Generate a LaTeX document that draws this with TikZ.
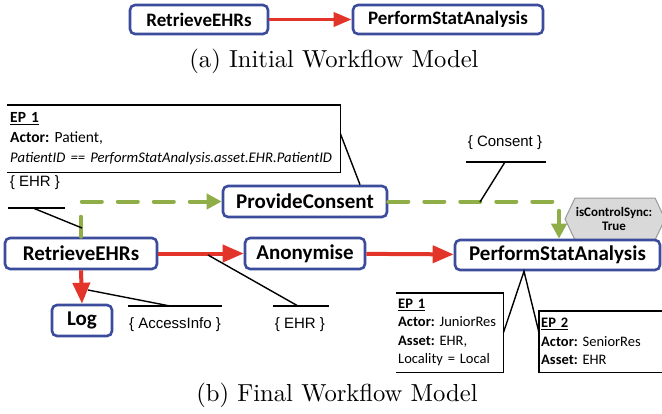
\documentclass[tikz,border=0pt]{standalone}
\usepackage{fontspec}
\newfontfamily\boxfont{Carlito}
\newfontfamily\lblfont{Liberation Sans}
\newfontfamily\capfont{lmroman10-regular}[Extension=.otf]
\frenchspacing
\usetikzlibrary{arrows.meta,backgrounds}
\definecolor{taskblue}{HTML}{3C4C9C}
\definecolor{flowred}{HTML}{E3342A}
\definecolor{syncgreen}{HTML}{8FAE48}
\definecolor{hexgray}{HTML}{D9D9D9}
\definecolor{hexline}{HTML}{9A9A9A}
\tikzset{
  task/.style={draw=taskblue, line width=2.6pt, rounded corners=5pt, fill=white,
    font=\boxfont\bfseries\fontsize{21}{24}\selectfont, inner sep=0pt},
  tasksmall/.style={task, font=\boxfont\bfseries\fontsize{19}{22}\selectfont},
  flow/.style={draw=flowred, line width=4pt, -{Triangle[length=21pt,width=17pt]}},
  flowsmall/.style={draw=flowred, line width=3.5pt, -{Triangle[length=18pt,width=14pt]}},
  sync/.style={draw=syncgreen, line width=4pt, line cap=round, dash pattern=on 20pt off 16pt,
    -{Triangle[length=15pt,width=15pt]}},
  assoc/.style={draw=black, line width=1.4pt},
  lbl/.style={font=\lblfont\fontsize{15}{18}\selectfont, inner sep=0pt},
  note/.style={font=\boxfont\fontsize{15.5}{20}\selectfont, align=left, inner sep=3pt, anchor=north west},
  notesmall/.style={font=\boxfont\fontsize{14.5}{18.5}\selectfont, align=left, inner sep=2pt, anchor=north west},
  caption/.style={font=\capfont\fontsize{24.6}{28}\selectfont, inner sep=0pt}
}
\begin{document}
\begin{tikzpicture}[x=1pt,y=-1pt]
\useasboundingbox (0,0) rectangle (662,413);
\clip (0,0) rectangle (662,413);

% (a) initial workflow
\node[tasksmall, minimum width=138pt, minimum height=29pt] (ra) at (199,19.5) {RetrieveEHRs};
\node[tasksmall, minimum width=190pt, minimum height=29pt] (pa) at (448,19.5) {PerformStatAnalysis};
\draw[flowsmall] (ra) -- (pa);
\node[caption] (capa) at (334,61) {(a) Initial Workflow Model};

% (b) final workflow: tasks
\node[task, minimum width=152pt, minimum height=31pt] (rb) at (81,253.5) {RetrieveEHRs};
\node[task, minimum width=120pt, minimum height=31pt] (an) at (305,253.5) {Anonymise};
\node[task, minimum width=205pt, minimum height=30pt] (pb) at (557.5,255) {PerformStatAnalysis};
\node[task, minimum width=164pt, minimum height=31pt] (pc) at (305,201.5) {ProvideConsent};
\node[task, minimum width=60pt, minimum height=31pt] (lg) at (82,320.5) {Log};

% control flow
\draw[flow] (rb) -- (an);
\draw[flow] (an) -- (pb);
\draw[flow] (rb.south) -- (lg.north);

% consent synchronisation
\draw[sync] (rb.north) |- (pc.west);
\draw[sync] (pc.east) -| ([xshift=1.5pt]pb.north);

% control sync marker
\coordinate (hexc) at (614,219);
\node[font=\boxfont\bfseries\fontsize{13}{14.5}\selectfont, align=center, inner sep=0pt] (hex) at (hexc) {isControlSync:\\True};
\begin{scope}[on background layer]
\filldraw[fill=hexgray, draw=hexline, line width=1pt]
  ([xshift=-49pt]hexc) -- ([xshift=-39pt,yshift=21pt]hexc) -- ([xshift=41pt,yshift=21pt]hexc)
  -- ([xshift=51pt]hexc) -- ([xshift=41pt,yshift=-21pt]hexc) -- ([xshift=-39pt,yshift=-21pt]hexc) -- cycle;
\end{scope}

% data labels
\node[lbl] (dConsent) at (505,143) {\{ Consent \}};
\coordinate (cL) at (466,162); \coordinate (cR) at (546,162); \coordinate (cM) at (505,162);
\coordinate (cT) at (480,202);
\draw[assoc] (cL) -- (cR);
\draw[assoc] (cM) -- (cT);

\node[lbl] (dEhrTop) at (35,183) {\{ EHR \}};
\coordinate (eL) at (8,208); \coordinate (eR) at (65,208); \coordinate (eM) at (33,208);
\coordinate (eT) at (82,228);
\draw[assoc] (eL) -- (eR);
\draw[assoc] (eM) -- (eT);

\node[lbl] (dAccess) at (175,325) {\{ AccessInfo \}};
\coordinate (aL) at (128,306); \coordinate (aR) at (222,306); \coordinate (aM) at (170,306);
\coordinate (aT) at (88,290);
\draw[assoc] (aL) -- (aR);
\draw[assoc] (aM) -- (aT);

\node[lbl] (dEhrBot) at (300,325) {\{ EHR \}};
\coordinate (bL) at (273,306); \coordinate (bR) at (329,306); \coordinate (bM) at (298,306);
\coordinate (bT) at (208,255);
\draw[assoc] (bL) -- (bR);
\draw[assoc] (bM) -- (bT);

% execution policies
\node[note, text width=327pt, minimum height=67pt] (ep0) at (7,105)
  {\textbf{\underline{EP 1}}\\\textbf{Actor:} Patient,\\\mbox{\fontsize{14.7}{20}\selectfont\itshape PatientID == PerformStatAnalysis.asset.EHR.PatientID}};
\draw[assoc] (ep0.north west) -- (ep0.north east) -- (ep0.south east) -- (ep0.south west);
\draw[assoc] ([yshift=5pt]ep0.east) -- ([xshift=55pt]pc.north);

\node[notesmall, text width=103pt, minimum height=79pt] (ep1) at (396,293)
  {\textbf{\underline{EP 1}}\\\textbf{Actor:} JuniorRes\\\textbf{Asset:} EHR,\\Locality = Local};
\draw[assoc] (ep1.north west) -- (ep1.north east) -- (ep1.south east) -- (ep1.south west);

\node[notesmall, text width=136pt, minimum height=61pt] (ep2) at (539,311)
  {\textbf{\underline{EP 2}}\\\textbf{Actor:} SeniorRes\\\textbf{Asset:} EHR};
\draw[assoc] (ep2.north east) -- (ep2.north west) -- (ep2.south west) -- (ep2.south east);

\coordinate (pbFoot) at ([xshift=-33.5pt]pb.south);
\draw[assoc] (ep1.east) -- (pbFoot) -- ([yshift=9pt]ep2.west);

\node[caption] (capb) at (337,395) {(b) Final Workflow Model};
\end{tikzpicture}
\end{document}
